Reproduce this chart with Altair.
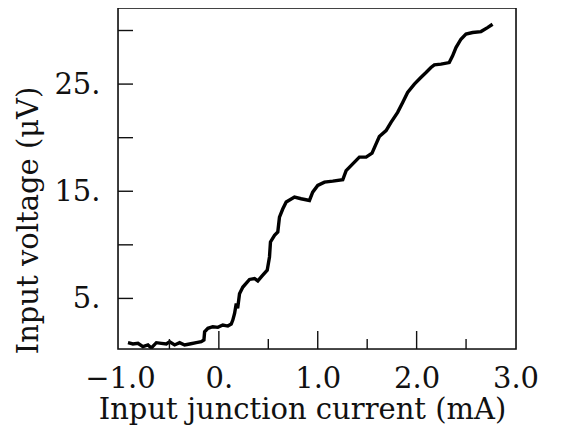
import altair as alt
import pandas as pd

# Curve: input junction current (mA) vs input voltage (uV)
current_mA = [-0.919, -0.869, -0.818, -0.768, -0.717, -0.683, -0.632, -0.582, -0.531, -0.498,
              -0.447, -0.397, -0.346, -0.296, -0.228, -0.178, -0.151, -0.144, -0.111, -0.061,
              -0.010, 0.040, 0.091, 0.125, 0.141, 0.159, 0.176, 0.190, 0.209, 0.243,
              0.310, 0.361, 0.394, 0.444, 0.489, 0.512, 0.522, 0.563, 0.596, 0.613,
              0.646, 0.681, 0.765, 0.832, 0.916, 0.949, 1.000, 1.068, 1.152, 1.253,
              1.287, 1.354, 1.421, 1.489, 1.549, 1.590, 1.623, 1.691, 1.741, 1.808,
              1.859, 1.909, 1.977, 2.035, 2.095, 2.145, 2.179, 2.246, 2.330, 2.364,
              2.398, 2.448, 2.499, 2.566, 2.651, 2.717, 2.768]
voltage_uV = [0.87, 0.75, 0.81, 0.50, 0.66, 0.38, 0.87, 0.81, 0.75, 0.96,
              0.66, 0.87, 0.66, 0.75, 0.87, 0.96, 1.12, 1.89, 2.21, 2.36,
              2.30, 2.52, 2.42, 2.61, 2.98, 3.60, 4.53, 4.07, 5.44, 6.06,
              6.77, 6.86, 6.64, 7.17, 7.63, 8.87, 10.27, 10.89, 11.20, 12.59,
              13.34, 13.99, 14.45, 14.30, 14.14, 14.92, 15.54, 15.85, 15.94, 16.07,
              16.93, 17.56, 18.18, 18.18, 18.55, 19.42, 20.10, 20.66, 21.43, 22.36,
              23.29, 24.22, 25.00, 25.55, 26.08, 26.55, 26.80, 26.86, 27.01, 27.64,
              28.41, 29.19, 29.66, 29.81, 29.90, 30.27, 30.58]

x_label_values = [-1.0, 0.0, 1.0, 2.0, 3.0]
y_label_values = [5, 15, 25]
x_major_ticks = [0.0, 1.0, 2.0]
x_minor_ticks = [-0.5, 0.5, 1.5, 2.5]
y_ticks = [5, 10, 15, 20, 25, 30]

W, H = 398, 341
FONT = "DejaVu Serif"
FS = 29

df = pd.DataFrame({"x": current_mA, "y": voltage_uV, "order": list(range(len(current_mA)))})

xscale = alt.Scale(domain=[-1.02, 3.005], nice=False, zero=False)
yscale = alt.Scale(domain=[0.28, 32.1], nice=False, zero=False)

x_axis = alt.Axis(
    values=x_label_values,
    labelExpr="datum.value == 0 ? '0.' : format(datum.value, '.1f')",
    ticks=False, domain=False, grid=False,
    labelFont=FONT, labelFontSize=FS, labelColor="#111",
    labelBaseline="alphabetic", labelPadding=38, labelFlush=False, labelOverlap=False,
    title="Input junction current (mA)",
    titleFont=FONT, titleFontSize=FS, titleFontWeight="normal", titleColor="#111",
    titleX=184, titleY=69, titleAlign="center", titleBaseline="alphabetic",
)
y_axis = alt.Axis(
    values=y_label_values,
    labelExpr="datum.value + '.'",
    ticks=False, domain=False, grid=False,
    labelFont=FONT, labelFontSize=FS, labelColor="#111",
    labelPadding=18, labelFlush=False, labelOverlap=False,
    title="Input voltage (μV)",
    titleFont=FONT, titleFontSize=FS, titleFontWeight="normal", titleColor="#111",
    titleX=-81, titleY=212, titleAngle=270, titleAlign="center", titleBaseline="alphabetic",
)

line = alt.Chart(df).mark_line(color="black", strokeWidth=3.4, clip=True).encode(
    x=alt.X("x:Q", scale=xscale, axis=x_axis),
    y=alt.Y("y:Q", scale=yscale, axis=y_axis),
    order="order:Q",
)

xmaj = alt.Chart(pd.DataFrame({"t": x_major_ticks})).mark_rule(color="#111", strokeWidth=1.4).encode(
    x=alt.X("t:Q", scale=xscale), y=alt.value(H), y2=alt.value(H - 18)
)
xmin = alt.Chart(pd.DataFrame({"t": x_minor_ticks})).mark_rule(color="#111", strokeWidth=1.4).encode(
    x=alt.X("t:Q", scale=xscale), y=alt.value(H), y2=alt.value(H - 10)
)
yt = alt.Chart(pd.DataFrame({"t": y_ticks})).mark_rule(color="#111", strokeWidth=1.4).encode(
    y=alt.Y("t:Q", scale=yscale), x=alt.value(0), x2=alt.value(15)
)
frame = alt.Chart(pd.DataFrame({"f": [0]})).mark_rect(
    fill=None, fillOpacity=0, stroke="#111", strokeWidth=1.6
).encode(x=alt.value(0), x2=alt.value(W), y=alt.value(0), y2=alt.value(H))

chart = alt.layer(line, xmaj, xmin, yt, frame).properties(
    width=W, height=H,
    autosize=alt.AutoSizeParams(type="none"),
    padding={"left": 110, "top": 0, "right": 40, "bottom": 76},
).configure_view(strokeWidth=0).configure(background="white")

chart.save("out.html", embed_options={"renderer": "svg", "actions": False})
